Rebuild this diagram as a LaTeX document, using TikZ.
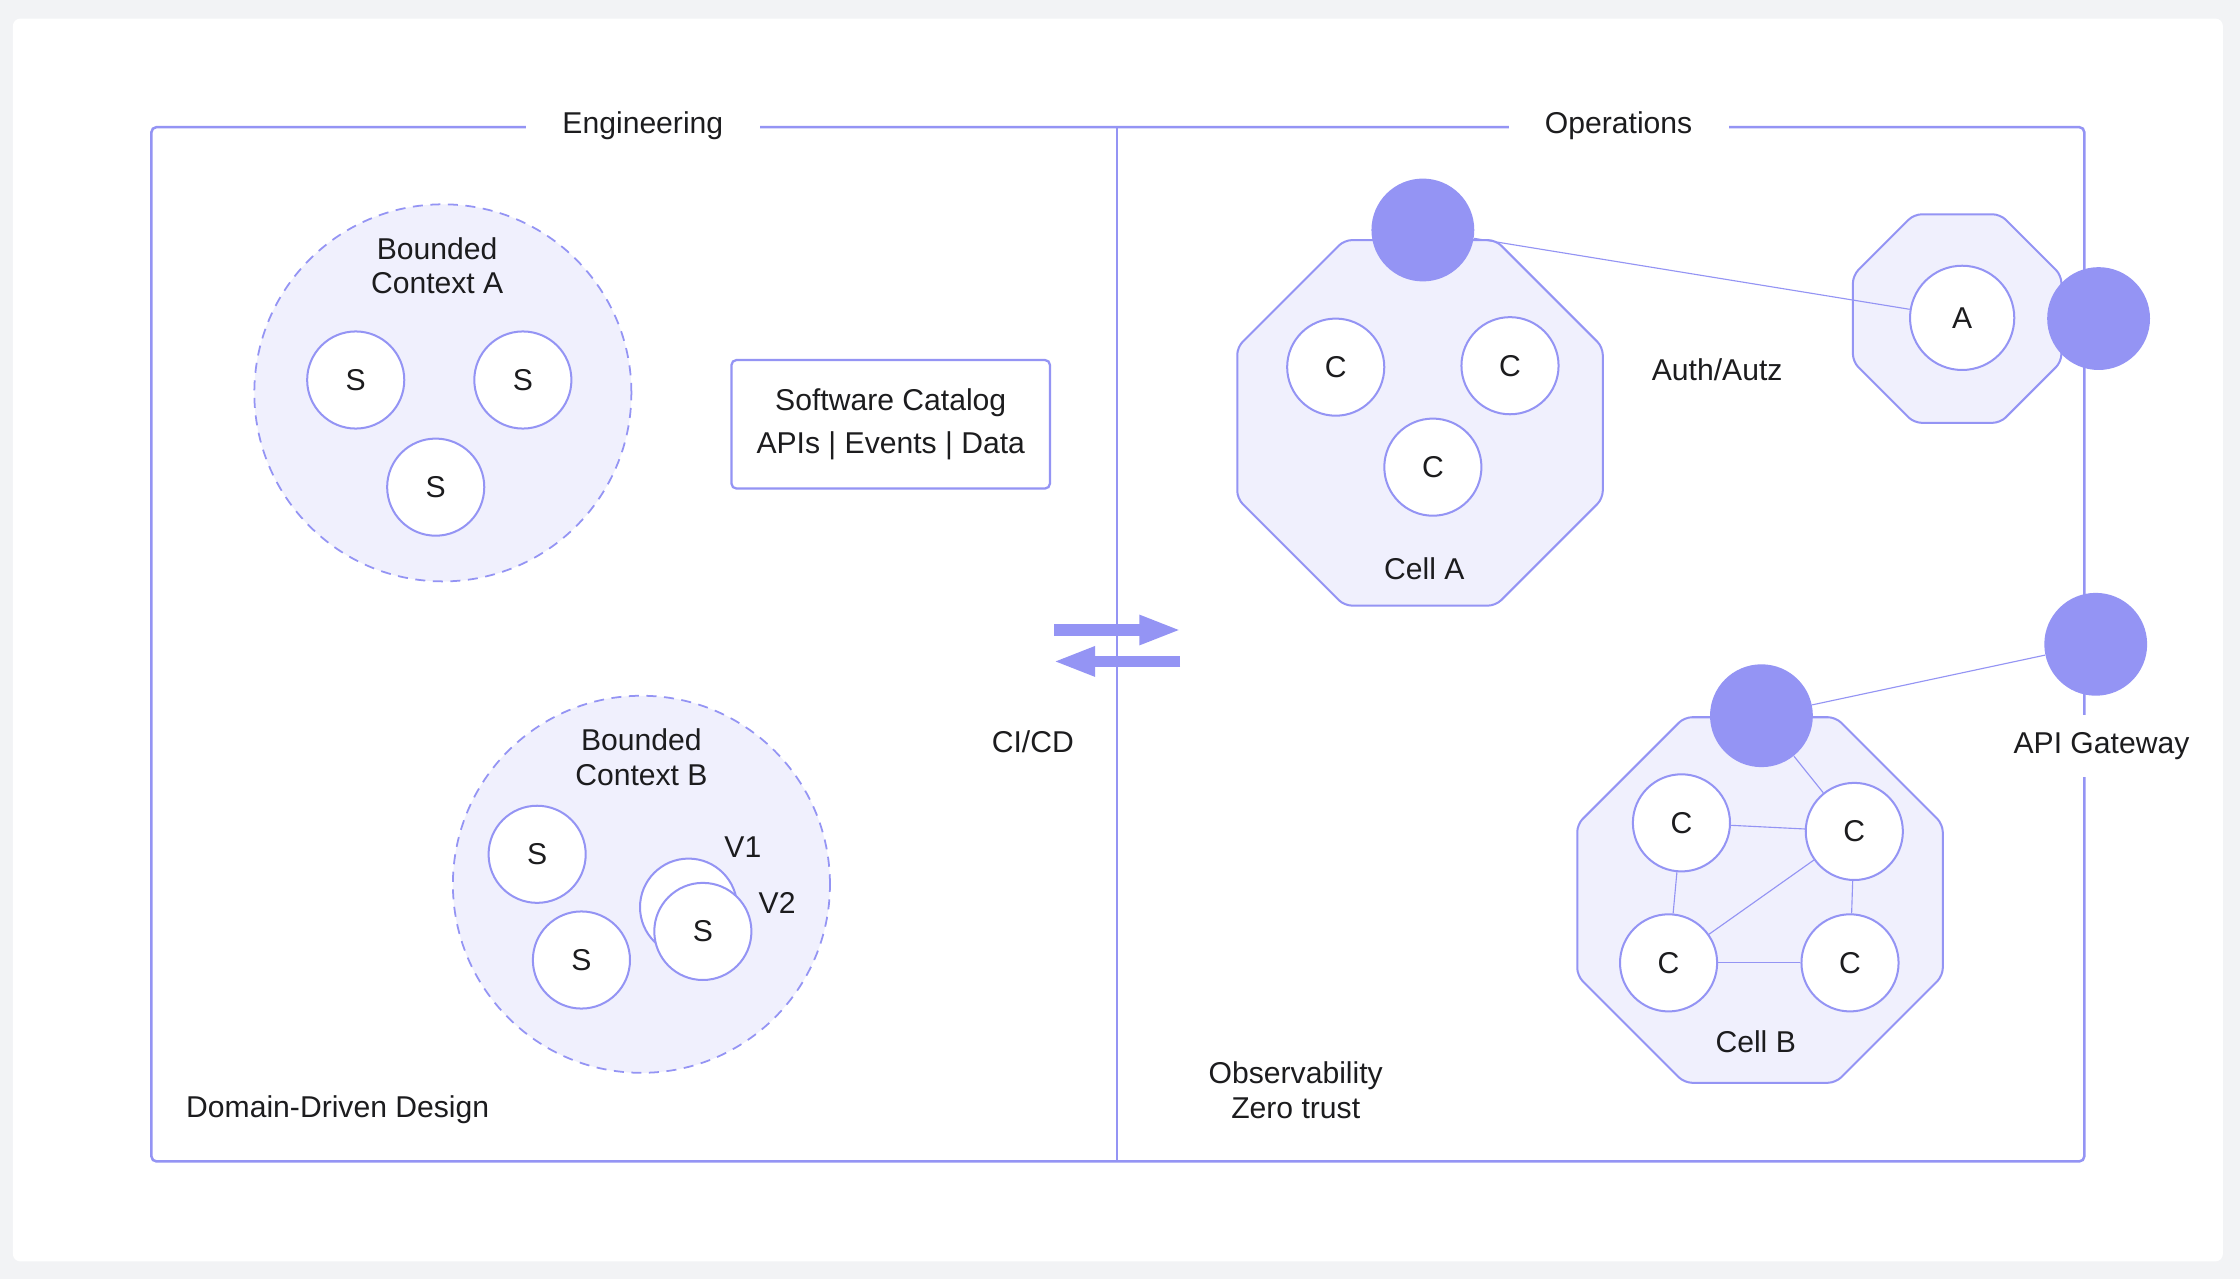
\documentclass[tikz,border=0pt]{standalone}
\usepackage{fontspec}
\setmainfont{Liberation Sans}
\usetikzlibrary{shapes.geometric}
\usetikzlibrary{arrows.meta}
\definecolor{lav}{HTML}{9494F4}
\definecolor{lavfill}{HTML}{F0F0FD}
\definecolor{pagegray}{HTML}{F2F3F5}
\definecolor{ink}{HTML}{1C1C1E}
\tikzset{every node/.style={text=ink,font=\fontsize{12pt}{13.8pt}\selectfont},
         context/.style={circle,draw=lav,fill=lavfill,dash pattern=on 4pt off 3pt,line width=0.7pt,minimum size=5.28cm,inner sep=0pt},
         svc/.style={circle,draw=lav,fill=white,line width=0.8pt,minimum size=1.36cm,inner sep=0pt},
         cell/.style={regular polygon,regular polygon sides=8,draw=lav,fill=lavfill,line width=0.8pt,rounded corners=3pt,inner sep=0pt},
         hub/.style={circle,fill=lav,minimum size=1.44cm,inner sep=0pt},
         wire/.style={draw=lav,line width=0.45pt},
         flowarrow/.style={draw=lav,line width=0.16cm,-{Triangle[length=0.59cm,width=0.38cm]}},
         tagtext/.style={fill=white,inner xsep=14.5pt,inner ysep=7pt},
         catalog/.style={rectangle,draw=lav,fill=white,line width=0.9pt,rounded corners=2pt,minimum width=4.46cm,minimum height=1.8cm,align=center},
         }

\begin{document}
\begin{tikzpicture}[x=0.02cm,y=-0.02cm]
\path[use as bounding box,fill=pagegray] (0,0) rectangle (1568,895);
\fill[white,rounded corners=3pt] (9,13) rectangle (1556,883);
\draw[lav,line width=1pt,rounded corners=2pt] (106,89) rectangle (1459,813);
\draw[lav,line width=1pt] (782,89) -- (782,813);
\node[tagtext] (eng) at (450,88) {Engineering};
\node[tagtext] (ops) at (1133,88) {Operations};

\node[context] (bca) at (310,275) {};
\node[align=center] (bcaname) at (306,186) {Bounded\\Context A};
\node[svc] (sa1) at (249,266) {S};
\node[svc] (sa2) at (366,266) {S};
\node[svc] (sa3) at (305,341) {S};

\node[context] (bcb) at (449,619) {};
\node[align=center] (bcbname) at (449,530) {Bounded\\Context B};
\node[svc] (sb1) at (376,598) {S};
\node[svc] (sb2) at (407,672) {S};
\node[svc] (sbv1) at (482,635) {};
\node[svc] (sbv2) at (492,652) {S};
\node (v1) at (520,593) {V1};
\node (v2) at (544,632) {V2};

\node[catalog] (cat) at (623.5,297) {Software Catalog\\[3pt]APIs | Events | Data};

\coordinate (cdla) at (738,441);
\coordinate (cdra) at (827,441);
\coordinate (cdlb) at (737,463);
\coordinate (cdrb) at (826,463);
\draw[flowarrow] (cdla) -- (cdra);
\draw[flowarrow] (cdrb) -- (cdlb);
\node (cicd) at (723,519) {CI/CD};

\node[cell,minimum size=5.54cm] (cella) at (994,296) {};
\node[cell,minimum size=3.16cm] (auth) at (1370,223) {};
\node[cell,minimum size=5.54cm] (cellb) at (1232,630) {};

\node[hub] (huba) at (996,161) {};
\node[hub] (hubauth) at (1469,223) {};
\node[hub] (hubapi) at (1467,451) {};
\node[hub] (hubb) at (1233,501) {};

\node[svc] (ca1) at (935,257) {C};
\node[svc] (ca2) at (1057,256) {C};
\node[svc] (ca3) at (1003,327) {C};
\node[svc,minimum size=1.46cm] (authsvc) at (1373.5,222.5) {A};
\node[svc] (cb1) at (1177,576) {C};
\node[svc] (cb2) at (1298,582) {C};
\node[svc] (cb3) at (1168,674) {C};
\node[svc] (cb4) at (1295,674) {C};

\draw[wire] (huba) -- (authsvc);
\draw[wire] (hubb) -- (hubapi);
\draw[wire] (hubb) -- (cb2);
\draw[wire] (cb1) -- (cb2);
\draw[wire] (cb1) -- (cb3);
\draw[wire] (cb2) -- (cb3);
\draw[wire] (cb2) -- (cb4);
\draw[wire] (cb3) -- (cb4);

\node (cellaname) at (997,398) {Cell A};
\node (cellbname) at (1229,729) {Cell B};
\node (authname) at (1202,259) {Auth/Autz};
\node[tagtext,inner xsep=3pt] (apigw) at (1471,522) {API Gateway};
\node[align=center] (obs) at (907,763) {Observability\\Zero trust};
\node[anchor=west,inner sep=0pt] (ddd) at (130,777) {Domain-Driven Design};
\end{tikzpicture}
\end{document}
